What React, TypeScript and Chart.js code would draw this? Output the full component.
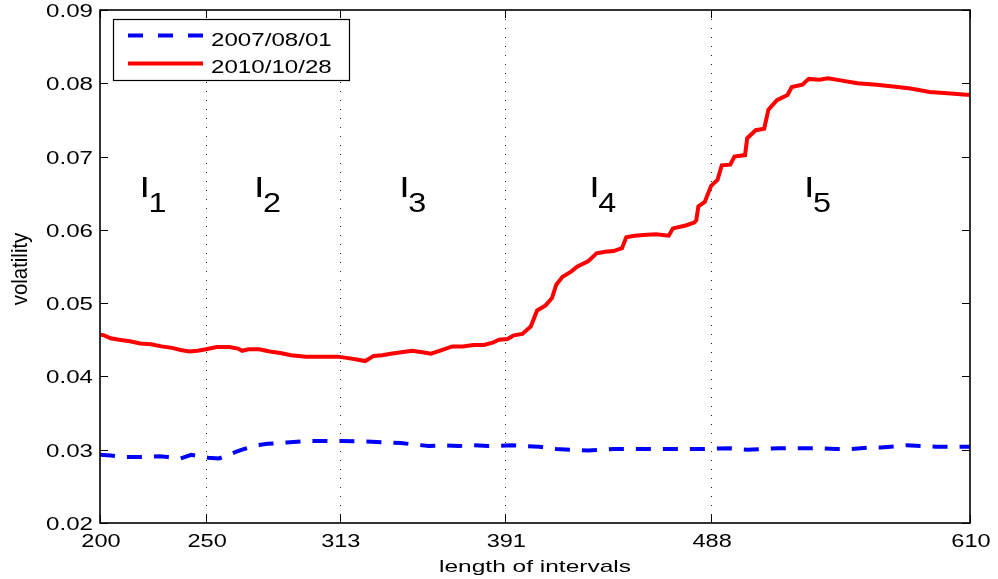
import React, { useEffect, useRef } from "react";
import { Chart, registerables } from "chart.js";

Chart.register(...registerables);

// ---------- data ----------
const xTickValues = [200, 250, 313, 391, 488, 610];
const dottedX = [250, 313, 391, 488];
const yMin = 0.02;
const yMax = 0.09;
const yStep = 0.01;

const seriesNames = ["2007/08/01", "2010/10/28"];

const blueX = [200, 205, 212, 220, 228, 232, 238, 243, 247, 251, 256, 260, 264, 268, 274, 279, 288, 300, 314, 328, 342, 355, 362, 369, 376, 383, 394, 400, 407, 415, 422, 430, 436, 442, 455, 470, 484, 497, 505, 512, 520, 527, 539, 547, 554, 562, 568, 580, 588, 594, 610];
const blueY = [0.0293, 0.0292, 0.029, 0.029, 0.0291, 0.029, 0.0288, 0.0293, 0.0291, 0.0289, 0.0288, 0.0292, 0.0297, 0.0301, 0.0306, 0.0308, 0.031, 0.0312, 0.0312, 0.0311, 0.0309, 0.0305, 0.0306, 0.0305, 0.0306, 0.0305, 0.0306, 0.0305, 0.0304, 0.0301, 0.03, 0.0299, 0.03, 0.0301, 0.0301, 0.0301, 0.0301, 0.0302, 0.03, 0.0301, 0.0302, 0.0302, 0.0302, 0.0301, 0.0301, 0.0303, 0.0303, 0.0306, 0.0305, 0.0304, 0.0304];

const redX = [200, 202, 205, 209, 214, 219, 224, 229, 234, 238, 242, 246, 250, 255, 261, 265, 267, 270, 275, 280, 285, 290, 297, 305, 312, 317, 321, 325, 329, 333, 337, 342, 347, 352, 356, 361, 366, 371, 376, 381, 385, 388, 392, 395, 399, 403, 406, 410, 413, 415, 418, 422, 425, 430, 434, 438, 442, 446, 448, 452, 456, 462, 468, 470, 476, 480, 481, 482, 485, 488, 491, 493, 497, 499, 504, 505, 509, 513, 515, 519, 524, 526, 531, 534, 539, 543, 549, 557, 566, 576, 582, 591, 601, 610];
const redY = [0.0457, 0.0456, 0.0452, 0.045, 0.0448, 0.0445, 0.0444, 0.0441, 0.0439, 0.0436, 0.0434, 0.0435, 0.0437, 0.044, 0.044, 0.0438, 0.0435, 0.0437, 0.0437, 0.0434, 0.0432, 0.0429, 0.0427, 0.0427, 0.0427, 0.0425, 0.0423, 0.0421, 0.0428, 0.0429, 0.0431, 0.0433, 0.0435, 0.0433, 0.0431, 0.0436, 0.0441, 0.0441, 0.0443, 0.0443, 0.0446, 0.045, 0.0451, 0.0456, 0.0458, 0.0468, 0.049, 0.0497, 0.0507, 0.0525, 0.0536, 0.0543, 0.055, 0.0557, 0.0568, 0.057, 0.0571, 0.0575, 0.059, 0.0592, 0.0593, 0.0594, 0.0592, 0.0602, 0.0606, 0.061, 0.0613, 0.0632, 0.0638, 0.066, 0.0668, 0.0688, 0.0689, 0.07, 0.0702, 0.0725, 0.0736, 0.0738, 0.0764, 0.0777, 0.0784, 0.0795, 0.0798, 0.0806, 0.0805, 0.0807, 0.0804, 0.08, 0.0798, 0.0795, 0.0793, 0.0788, 0.0786, 0.0784];

const intervalLabelX = [220, 274, 342.4, 432, 533.2];
const intervalLabelY = 0.0645;
const intervalSubs = ["1", "2", "3", "4", "5"];

const xTitle = "length of intervals";
const yTitle = "volatility";

// ---------- helpers ----------
const FAMILY = '"Liberation Sans", Arial, Helvetica, sans-serif';

function drawText(
  ctx: CanvasRenderingContext2D,
  s: string,
  x: number,
  y: number,
  size: number,
  sx: number,
  align: CanvasTextAlign,
  baseline: CanvasTextBaseline = "alphabetic"
) {
  ctx.save();
  ctx.font = `${size}px ${FAMILY}`;
  ctx.fillStyle = "#000";
  ctx.textAlign = align;
  ctx.textBaseline = baseline;
  ctx.translate(x, y);
  ctx.scale(sx, 1);
  ctx.fillText(s, 0, 0);
  ctx.restore();
}

const matlabPlugin = {
  id: "matlabDecor",
  beforeDatasetsDraw(chart: any) {
    const { ctx, chartArea } = chart;
    const xs = chart.scales.x;
    ctx.save();
    ctx.strokeStyle = "#222";
    ctx.lineWidth = 1;
    ctx.setLineDash([1, 8]);
    dottedX.forEach((v) => {
      const px = Math.round(xs.getPixelForValue(v)) + 0.5;
      ctx.beginPath();
      ctx.moveTo(px, chartArea.top);
      ctx.lineTo(px, chartArea.bottom);
      ctx.stroke();
    });
    ctx.restore();
  },
  afterDraw(chart: any) {
    const { ctx, chartArea } = chart;
    const xs = chart.scales.x;
    const ys = chart.scales.y;
    const { left, right, top, bottom } = chartArea;

    // box
    ctx.save();
    ctx.strokeStyle = "#000";
    ctx.lineWidth = 1.6;
    ctx.setLineDash([]);
    ctx.strokeRect(left, top, right - left, bottom - top);

    // inward ticks
    ctx.lineWidth = 1;
    const tl = 8;
    xs.ticks.forEach((t: any) => {
      const px = Math.round(xs.getPixelForValue(t.value)) + 0.5;
      ctx.beginPath();
      ctx.moveTo(px, bottom);
      ctx.lineTo(px, bottom - tl);
      ctx.moveTo(px, top);
      ctx.lineTo(px, top + tl);
      ctx.stroke();
    });
    ys.ticks.forEach((t: any) => {
      const py = Math.round(ys.getPixelForValue(t.value)) + 0.5;
      ctx.beginPath();
      ctx.moveTo(left, py);
      ctx.lineTo(left + tl, py);
      ctx.moveTo(right, py);
      ctx.lineTo(right - tl, py);
      ctx.stroke();
    });
    ctx.restore();

    // tick labels
    xs.ticks.forEach((t: any) => {
      const px = xs.getPixelForValue(t.value);
      drawText(ctx, String(t.value), px + 1, bottom + 24, 19, 1.24, "center");
    });
    ys.ticks.forEach((t: any) => {
      const py = ys.getPixelForValue(t.value);
      drawText(ctx, Number(t.value).toFixed(2), left - 7, py + 7, 19, 1.27, "right");
    });

    // axis titles
    drawText(ctx, xTitle, (left + right) / 2, 572, 17, 1.44, "center");
    ctx.save();
    ctx.translate(21, 269);
    ctx.rotate(-Math.PI / 2);
    ctx.scale(1.2, 1.25);
    ctx.font = `17px ${FAMILY}`;
    ctx.fillStyle = "#000";
    ctx.textAlign = "center";
    ctx.textBaseline = "middle";
    ctx.fillText(yTitle, 0, 0);
    ctx.restore();

    // interval labels
    intervalLabelX.forEach((v, i) => {
      const px = xs.getPixelForValue(v);
      const py = ys.getPixelForValue(intervalLabelY);
      drawText(ctx, "I", px - 3, py, 29, 1.3, "left");
      drawText(ctx, intervalSubs[i], px + 6, py + 15, 27, 1.2, "left");
    });

    // legend
    ctx.save();
    ctx.fillStyle = "#fff";
    ctx.fillRect(113.5, 19.5, 236, 61);
    ctx.strokeStyle = "#000";
    ctx.lineWidth = 1.2;
    ctx.strokeRect(113.5, 19.5, 236, 61);
    ctx.lineWidth = 4;
    ctx.strokeStyle = "#0000ff";
    ctx.setLineDash([15, 15]);
    ctx.beginPath();
    ctx.moveTo(128, 35.5);
    ctx.lineTo(203, 35.5);
    ctx.stroke();
    ctx.setLineDash([]);
    ctx.strokeStyle = "#ff0000";
    ctx.beginPath();
    ctx.moveTo(128, 63.5);
    ctx.lineTo(203, 63.5);
    ctx.stroke();
    ctx.restore();
    drawText(ctx, seriesNames[0], 211, 45.5, 19, 1.27, "left");
    drawText(ctx, seriesNames[1], 211, 72.5, 19, 1.27, "left");
  },
};

export default function App() {
  const ref = useRef<HTMLCanvasElement | null>(null);

  useEffect(() => {
    if (!ref.current) return;
    const chart = new Chart(ref.current, {
      type: "line",
      data: {
        datasets: [
          {
            label: seriesNames[0],
            data: blueX.map((x, i) => ({ x, y: blueY[i] })),
            borderColor: "#0000ff",
            borderWidth: 4,
            borderDash: [15, 12],
            pointRadius: 0,
            tension: 0,
            fill: false,
          },
          {
            label: seriesNames[1],
            data: redX.map((x, i) => ({ x, y: redY[i] })),
            borderColor: "#ff0000",
            borderWidth: 4,
            pointRadius: 0,
            tension: 0,
            fill: false,
          },
        ],
      },
      options: {
        animation: false,
        responsive: false,
        devicePixelRatio: 1,
        layout: { padding: { left: 0, right: 28, top: 10, bottom: 0 } },
        plugins: {
          legend: { display: false },
          tooltip: { enabled: false },
        },
        scales: {
          x: {
            type: "linear",
            min: 200,
            max: 610,
            afterBuildTicks: (scale: any) => {
              scale.ticks = xTickValues.map((v) => ({ value: v }));
            },
            afterFit: (scale: any) => {
              scale.height = 56;
            },
            ticks: { display: false },
            grid: { display: false },
            border: { display: false },
          },
          y: {
            type: "linear",
            min: yMin,
            max: yMax,
            ticks: { display: false, stepSize: yStep },
            afterFit: (scale: any) => {
              scale.width = 100;
            },
            grid: { display: false },
            border: { display: false },
          },
        },
      },
      plugins: [matlabPlugin],
    });
    return () => chart.destroy();
  }, []);

  return (
    <div style={{ position: "absolute", left: 0, top: 0, width: 998, height: 579, background: "#fff" }}>
      <canvas ref={ref} width={998} height={579} />
    </div>
  );
}
